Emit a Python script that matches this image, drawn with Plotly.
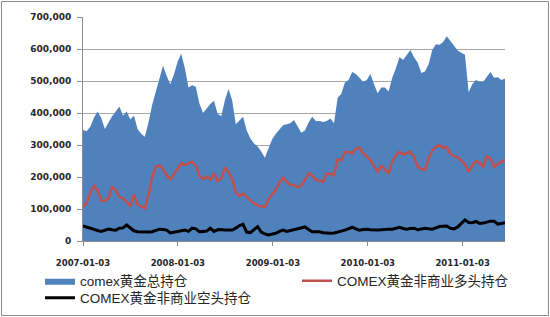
import pandas as pd
import plotly.graph_objects as go

# biweekly observation dates
dates = pd.date_range("2007-01-03", periods=117, freq="14D").strftime("%Y-%m-%d").tolist()

# values in thousands of contracts
total_oi = [347, 343, 357, 385, 405, 385, 350, 370, 390, 405, 420, 392, 405, 380, 392, 350, 335, 326, 370, 425,
            465, 500, 548, 516, 490, 520, 560, 585, 540, 480, 487, 482, 430, 400, 415, 428, 438, 398, 390, 440,
            475, 440, 365, 376, 388, 345, 320, 305, 295, 280, 260, 290, 318, 335, 348, 362, 365, 368, 378, 360,
            338, 345, 370, 388, 375, 375, 372, 375, 383, 368, 448, 460, 495, 503, 528, 522, 510, 498, 503, 522,
            490, 462, 480, 480, 467, 510, 540, 575, 566, 580, 597, 574, 558, 525, 530, 552, 597, 615, 613, 622,
            640, 625, 608, 595, 588, 582, 465, 490, 503, 498, 498, 515, 528, 510, 512, 503, 508]

noncomm_long = [107, 118, 150, 172, 160, 126, 125, 135, 168, 160, 138, 133, 122, 108, 145, 115, 108, 102, 145, 200,
                232, 237, 225, 205, 192, 210, 228, 243, 238, 242, 248, 235, 205, 193, 201, 192, 212, 188, 195, 230,
                215, 195, 152, 140, 148, 138, 128, 117, 112, 108, 107, 130, 145, 160, 182, 198, 185, 175, 175, 168,
                175, 190, 212, 205, 191, 188, 185, 210, 210, 205, 255, 253, 278, 278, 274, 288, 292, 274, 265, 252,
                235, 217, 235, 225, 212, 248, 268, 279, 270, 275, 279, 260, 232, 225, 222, 258, 282, 295, 300, 290,
                295, 272, 265, 262, 252, 240, 215, 235, 250, 245, 232, 265, 258, 232, 240, 248, 253]

noncomm_short = [47, 43, 40, 36, 33, 30, 33, 37, 35, 34, 40, 41, 50, 40, 32, 29, 28, 27, 28, 29,
                 33, 37, 36, 34, 25, 27, 29, 32, 34, 30, 40, 38, 29, 30, 31, 40, 30, 35, 36, 34,
                 34, 34, 40, 48, 52, 28, 26, 35, 45, 28, 22, 19, 21, 24, 30, 34, 30, 33, 36, 40,
                 41, 44, 36, 29, 29, 29, 26, 24, 24, 25, 29, 31, 34, 38, 43, 38, 34, 36, 37, 35,
                 34, 34, 35, 37, 37, 37, 40, 43, 39, 37, 39, 40, 35, 37, 40, 38, 37, 41, 45, 46,
                 47, 40, 38, 44, 55, 66, 58, 57, 61, 55, 56, 60, 62, 62, 53, 55, 57]

names = ["comex黄金总持仓", "COMEX黄金非商业多头持仓", "COMEX黄金非商业空头持仓"]
tick_dates = ["2007-01-03", "2008-01-03", "2009-01-03", "2010-01-03", "2011-01-03"]
y_ticks = [0, 100000, 200000, 300000, 400000, 500000, 600000, 700000]

scale = 1000
fig = go.Figure()
fig.add_trace(go.Scatter(x=dates, y=[v * scale for v in total_oi], name=names[0], mode="lines",
                         fill="tozeroy", fillcolor="#4F81BD", line=dict(width=0, color="#4F81BD"),
                         legend="legend"))
fig.add_trace(go.Scatter(x=dates, y=[v * scale for v in noncomm_long], name=names[1], mode="lines",
                         line=dict(width=2.5, color="#C0504D"), legend="legend2"))
fig.add_trace(go.Scatter(x=dates, y=[v * scale for v in noncomm_short], name=names[2], mode="lines",
                         line=dict(width=3, color="#000000"), legend="legend3"))

W, H = 550, 317
L, R, T, B = 83, 45, 17, 76
pw, ph = W - L - R, H - T - B

def px_x(p):
    return (p - L) / pw

def px_y(p):
    return (H - B - p) / ph

legend_font = dict(family="Liberation Sans, Noto Sans CJK SC", size=13.5, color="#262626")
common_leg = dict(xref="container", yref="container", xanchor="left", yanchor="middle",
                  font=legend_font, bgcolor="rgba(0,0,0,0)", borderwidth=0)

fig.update_layout(
    width=W, height=H,
    margin=dict(l=L, r=R, t=T, b=B, autoexpand=False),
    paper_bgcolor="white", plot_bgcolor="white",
    showlegend=True,
    legend=dict(x=40 / W, y=1 - 281 / H, **common_leg),
    legend2=dict(x=297 / W, y=1 - 281 / H, **common_leg),
    legend3=dict(x=40 / W, y=1 - 298 / H, **common_leg),
    xaxis=dict(
        type="date",
        range=[dates[0], dates[-1]],
        tickvals=tick_dates, ticktext=tick_dates, tickangle=0,
        showgrid=False, showline=True, linecolor="#8c8c8c", linewidth=1,
        ticks="outside", ticklen=4, tickcolor="#8c8c8c",
        tickfont=dict(family="DejaVu Sans", size=8.5, color="#262626", weight="bold"),
        ticklabelstandoff=10, automargin=False,
    ),
    yaxis=dict(
        range=[0, 700000], tickvals=y_ticks, tickformat=",d",
        showgrid=True, gridcolor="#a6a6a6", gridwidth=1,
        showline=True, linecolor="#8c8c8c", linewidth=1,
        ticks="outside", ticklen=5, tickcolor="#8c8c8c",
        tickfont=dict(family="DejaVu Sans", size=9, color="#262626", weight="bold"),
        ticklabelstandoff=4, zeroline=False, automargin=False,
    ),
    shapes=[dict(type="rect", xref="paper", yref="paper",
                 x0=px_x(1.5), x1=px_x(548.5), y0=px_y(315.5), y1=px_y(1.5),
                 line=dict(color="#8c8c8c", width=1), fillcolor="rgba(0,0,0,0)", layer="above")],
)

fig.write_html("out.html")
